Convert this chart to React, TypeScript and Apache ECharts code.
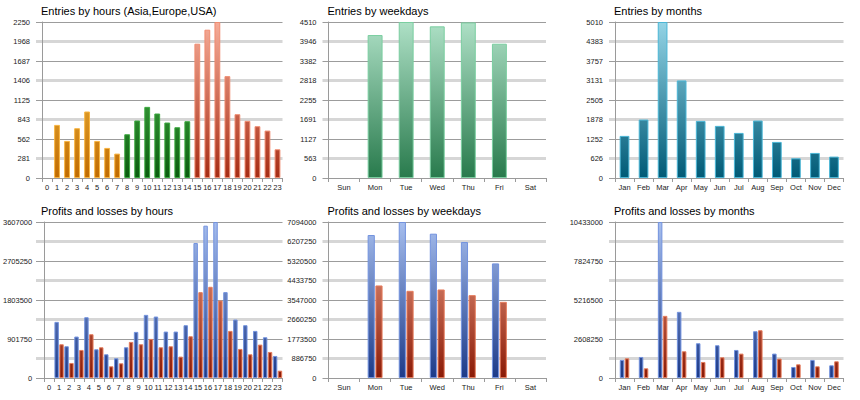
import React, { useEffect, useRef } from 'react';
import * as echarts from 'echarts';

const hours = ['0','1','2','3','4','5','6','7','8','9','10','11','12','13','14','15','16','17','18','19','20','21','22','23'];
const hourRegion = ['asia','asia','asia','asia','asia','asia','asia','asia','europe','europe','europe','europe','europe','europe','europe','usa','usa','usa','usa','usa','usa','usa','usa','usa'];
const entriesByHour = [0, 766, 535, 718, 959, 535, 434, 352, 631, 829, 1026, 930, 800, 732, 819, 1937, 2139, 2250, 1469, 920, 824, 747, 684, 414];
const hourEntryTicks = ['0','281','562','843','1125','1406','1687','1968','2250'];

const weekdays = ['Sun','Mon','Tue','Wed','Thu','Fri','Sat'];
const entriesByWeekday = [0, 4133, 4510, 4384, 4498, 3882, 0];
const weekdayEntryTicks = ['0','563','1127','1691','2255','2818','3382','3946','4510'];

const months = ['Jan','Feb','Mar','Apr','May','Jun','Jul','Aug','Sep','Oct','Nov','Dec'];
const entriesByMonth = [1352, 1877, 5010, 3133, 1834, 1674, 1448, 1845, 1159, 633, 805, 687];
const monthEntryTicks = ['0','626','1252','1878','2505','3131','3757','4383','5010'];

const profitsByHour = [0, 1297600, 733800, 957800, 1405700, 664200, 548400, 455700, 710600, 1065900, 1459800, 1421200, 1073600, 1073600, 1220400, 3120400, 3522100, 3607000, 1985000, 1351700, 1220400, 1089100, 942300, 509800];
const lossesByHour = [0, 780000, 347600, 648800, 1011800, 710600, 270300, 339800, 834200, 780100, 903700, 710600, 733800, 494300, 965500, 1985000, 2108600, 1791900, 1089100, 672000, 548400, 772400, 602500, 169900];
const hourPLTicks = ['0','','901750','','1803500','','2705250','','3607000'];

const profitsByWeekday = [0, 6501600, 7094000, 6562300, 6182600, 5210400, 0];
const lossesByWeekday = [0, 4207800, 3964700, 4025500, 3767300, 3463500, 0];
const weekdayPLTicks = ['0','886750','1773500','2660250','3547000','4433750','5320500','6207250','7094000'];

const profitsByMonth = [1206400, 1407400, 10433000, 4423400, 2323400, 2189400, 1876600, 3127700, 1630900, 737200, 1206400, 848900];
const lossesByMonth = [1318100, 647900, 4155300, 1787200, 1072300, 1385100, 1630900, 3194700, 1295800, 916000, 781900, 1117000];
const monthPLTicks = ['0','','2608250','','5216500','','7824750','','10433000'];

const FONT = 'Liberation Sans, Arial, sans-serif';

type Pal = { top: string; bottom: string; border: string };
const PAL: Record<string, Pal> = {
  asia: { top: '#ffd456', bottom: '#c06a00', border: '#f8b440' },
  europe: { top: '#5ccc5c', bottom: '#0a5c0e', border: '#3aa83e' },
  usa: { top: '#f6ac98', bottom: '#a62c14', border: '#f08c70' },
  week: { top: '#aee0c6', bottom: '#287a4c', border: '#7acea0' },
  month: { top: '#94d4e6', bottom: '#005a76', border: '#4ab6d6' },
  profit: { top: '#a6beee', bottom: '#1c3a88', border: '#7292de' },
  loss: { top: '#f4aa92', bottom: '#8a1a06', border: '#e67c5c' },
};

type SeriesDef = { values: number[]; pal: Pal | Pal[] };
type ChartDef = {
  title: string; L: number; R: number; T: number; B: number;
  cats: string[]; ticks: string[]; max: number;
  series: SeriesDef[]; catGap: string; barGap: string;
};

const COLS = [
  { L: 42, R: 282.5 },
  { L: 328.5, R: 546 },
  { L: 615, R: 843.5 },
];
const ROWS = [
  { T: 22, B: 178 },
  { T: 222, B: 378 },
];

const charts: ChartDef[] = [
  { title: 'Entries by hours (Asia,Europe,USA)', ...COLS[0], ...ROWS[0], cats: hours, ticks: hourEntryTicks, max: 2250,
    series: [{ values: entriesByHour, pal: hourRegion.map((r) => PAL[r]) }], catGap: '42%', barGap: '0%' },
  { title: 'Entries by weekdays', ...COLS[1], ...ROWS[0], cats: weekdays, ticks: weekdayEntryTicks, max: 4510,
    series: [{ values: entriesByWeekday, pal: PAL.week }], catGap: '52%', barGap: '0%' },
  { title: 'Entries by months', ...COLS[2], ...ROWS[0], cats: months, ticks: monthEntryTicks, max: 5010,
    series: [{ values: entriesByMonth, pal: PAL.month }], catGap: '49%', barGap: '0%' },
  { title: 'Profits and losses by hours', ...COLS[0], ...ROWS[1], cats: hours, ticks: hourPLTicks, max: 3607000,
    series: [{ values: profitsByHour, pal: PAL.profit }, { values: lossesByHour, pal: PAL.loss }], catGap: '6%', barGap: '10%' },
  { title: 'Profits and losses by weekdays', ...COLS[1], ...ROWS[1], cats: weekdays, ticks: weekdayPLTicks, max: 7094000,
    series: [{ values: profitsByWeekday, pal: PAL.profit }, { values: lossesByWeekday, pal: PAL.loss }], catGap: '52%', barGap: '8%' },
  { title: 'Profits and losses by months', ...COLS[2], ...ROWS[1], cats: months, ticks: monthPLTicks, max: 10433000,
    series: [{ values: profitsByMonth, pal: PAL.profit }, { values: lossesByMonth, pal: PAL.loss }], catGap: '50%', barGap: '10%' },
];

function grad(p: Pal, T: number, B: number) {
  return new echarts.graphic.LinearGradient(0, T, 0, B, [
    { offset: 0, color: p.top },
    { offset: 1, color: p.bottom },
  ], true);
}

function buildOption() {
  const grid: any[] = [];
  const xAxis: any[] = [];
  const yAxis: any[] = [];
  const series: any[] = [];
  const title: any[] = [];

  charts.forEach((c, k) => {
    const step = c.max / (c.ticks.length - 1);
    grid.push({ left: c.L, top: c.T, width: c.R - c.L, height: c.B - c.T, containLabel: false });
    grid.push({ left: c.L - 6, top: c.T, width: c.R - c.L + 6, height: c.B - c.T, containLabel: false });
    title.push({
      text: c.title, left: c.L - 1, top: c.T - 17, padding: 0,
      textStyle: { fontFamily: FONT, fontSize: 11, fontWeight: 'normal', color: '#000' },
    });
    xAxis.push({
      type: 'category', gridIndex: 2 * k, data: c.cats,
      axisLine: { lineStyle: { color: '#9a9a9a', width: 1 } },
      axisTick: { show: true, length: 4, lineStyle: { color: '#9a9a9a' } },
      axisLabel: { fontFamily: FONT, fontSize: 7.5, color: '#222', margin: 5, interval: 0 },
      splitLine: { show: false },
      z: 3,
    });
    xAxis.push({ type: 'value', gridIndex: 2 * k + 1, show: false, min: 0, max: 1 });
    const fmt = (v: number) => {
      const i = Math.round(v / step);
      return c.ticks[i] ?? '';
    };
    yAxis.push({
      type: 'value', gridIndex: 2 * k, min: 0, max: c.max, interval: step, position: 'left',
      axisLine: { show: true, lineStyle: { color: '#9a9a9a', width: 1 } },
      axisTick: { show: false },
      splitLine: { show: false },
      axisLabel: { fontFamily: FONT, fontSize: 7.5, color: '#222', margin: 12, formatter: fmt, showMinLabel: true, showMaxLabel: true },
      z: 3,
    });
    yAxis.push({
      type: 'value', gridIndex: 2 * k + 1, min: 0, max: c.max, interval: step, position: 'left',
      axisLine: { show: false }, axisTick: { show: false }, axisLabel: { show: false },
      splitLine: { show: true, lineStyle: { color: ['#9c9c9c', 'rgba(0,0,0,0)'], width: 1 } },
    });
    yAxis.push({
      type: 'value', gridIndex: 2 * k + 1, min: 0, max: c.max, interval: step, position: 'left',
      axisLine: { show: false }, axisTick: { show: false }, axisLabel: { show: false },
      splitLine: { show: true, lineStyle: { color: ['rgba(0,0,0,0)', '#d6d6d6'], width: 3 } },
    });
    c.series.forEach((s) => {
      series.push({
        type: 'bar', xAxisIndex: 2 * k, yAxisIndex: 3 * k,
        barCategoryGap: c.catGap, barGap: c.barGap,
        z: 4,
        data: s.values.map((v, i) => {
          const p = Array.isArray(s.pal) ? s.pal[i] : s.pal;
          return {
            value: v === 0 ? null : v,
            itemStyle: { color: grad(p, c.T, c.B), borderColor: p.border, borderWidth: 1 },
          };
        }),
      });
    });
  });

  return { animation: false, backgroundColor: '#fff', title, grid, xAxis, yAxis, series };
}

export default function App() {
  const ref = useRef<HTMLDivElement>(null);
  useEffect(() => {
    if (!ref.current) return;
    const chart = echarts.init(ref.current, undefined, { renderer: 'svg' });
    chart.setOption(buildOption() as any);
    return () => chart.dispose();
  }, []);
  return (
    <div
      ref={ref}
      style={{ position: 'fixed', left: 0, top: 0, width: 860, height: 400, background: '#fff' }}
    />
  );
}
